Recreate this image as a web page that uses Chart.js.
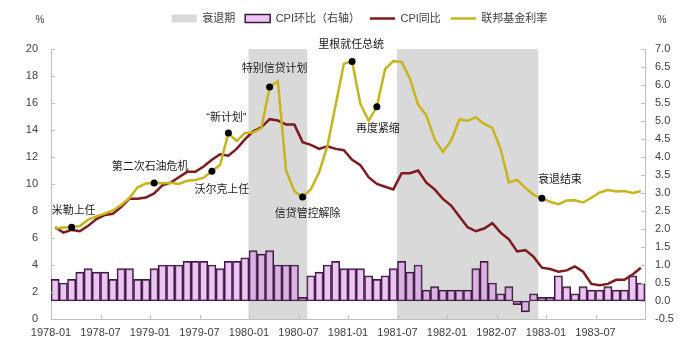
<!DOCTYPE html>
<html>
<head>
<meta charset="utf-8">
<script src="https://cdn.jsdelivr.net/npm/chart.js@4.4.1/dist/chart.umd.min.js"></script>
<style>
  html, body { margin: 0; padding: 0; background: #fff; }
</style>
</head>
<body>
<canvas id="fedChart" width="693" height="348"></canvas>
<script>
// monthly series, 1978-01 .. 1983-12
var months = [];
for (var yr = 1978; yr <= 1983; yr++) {
  for (var mo = 1; mo <= 12; mo++) {
    months.push(yr + '-' + (mo < 10 ? '0' + mo : mo));
  }
}

var tickLabels = ['1978-01', '1978-07', '1979-01', '1979-07', '1980-01', '1980-07',
                  '1981-01', '1981-07', '1982-01', '1982-07', '1983-01', '1983-07'];

// CPI month on month, % (right axis)
var cpiMom = [
  0.6, 0.5, 0.6, 0.8, 0.9, 0.8, 0.8, 0.6, 0.9, 0.9, 0.6, 0.6,
  0.9, 1.0, 1.0, 1.0, 1.1, 1.1, 1.1, 1.0, 0.9, 1.1, 1.1, 1.2,
  1.4, 1.3, 1.4, 1.0, 1.0, 1.0, 0.1, 0.7, 0.8, 1.0, 1.1, 0.9,
  0.9, 0.9, 0.7, 0.6, 0.7, 0.9, 1.1, 0.8, 1.0, 0.3, 0.4, 0.3,
  0.3, 0.3, 0.3, 0.9, 1.1, 0.5, 0.2, 0.4, -0.1, -0.3, 0.2, 0.1,
  0.1, 0.7, 0.4, 0.2, 0.4, 0.3, 0.3, 0.4, 0.3, 0.3, 0.7, 0.5
];

// CPI year on year, %
var cpiYoy = [
  6.8, 6.4, 6.6, 6.5, 6.9, 7.4, 7.7, 7.8, 8.3, 8.9, 8.9, 9.0,
  9.3, 9.9, 10.1, 10.5, 10.9, 10.9, 11.3, 11.8, 12.2, 12.1, 12.6, 13.3,
  13.9, 14.2, 14.8, 14.7, 14.4, 14.4, 13.1, 12.9, 12.6, 12.8, 12.6, 12.5,
  11.8, 11.4, 10.5, 10.0, 9.8, 9.6, 10.8, 10.8, 11.0, 10.1, 9.6, 8.9,
  8.4, 7.6, 6.8, 6.5, 6.7, 7.1, 6.4, 5.9, 5.0, 5.1, 4.6, 3.8,
  3.7, 3.5, 3.6, 3.9, 3.5, 2.6, 2.5, 2.6, 2.9, 2.9, 3.3, 3.8
];

// effective federal funds rate, %
var fedFunds = [
  6.70, 6.78, 6.79, 6.89, 7.36, 7.60, 7.81, 8.04, 8.45, 8.96, 9.76, 10.03,
  10.07, 10.06, 10.09, 10.01, 10.24, 10.29, 10.47, 10.94, 11.43, 13.77, 13.18, 13.78,
  13.82, 14.13, 17.19, 17.61, 10.98, 9.47, 9.03, 9.61, 10.87, 12.81, 15.85, 18.90,
  19.08, 15.93, 14.70, 15.72, 18.52, 19.10, 19.04, 17.82, 15.87, 15.08, 13.31, 12.37,
  13.22, 14.78, 14.68, 14.94, 14.45, 14.15, 12.59, 10.12, 10.31, 9.71, 9.20, 8.95,
  8.68, 8.51, 8.77, 8.80, 8.63, 8.98, 9.37, 9.56, 9.45, 9.48, 9.34, 9.47
];

// recessions, first and last month
var recessions = [['1980-01', '1980-07'], ['1981-07', '1982-11']];

// events marked on the fed funds line
var events = ['1978-03', '1979-01', '1979-08', '1979-10', '1980-03',
              '1980-07', '1981-01', '1981-04', '1982-12'];
var eventLabels = ['米勒上任', '第二次石油危机', '沃尔克上任', '“新计划”', '特别信贷计划',
                   '信贷管控解除', '里根就任总统', '再度紧缩', '衰退结束'];

var FONT = '"Liberation Sans", "Noto Sans CJK SC", sans-serif';
var AXIS = '#bfbfbf';
var TEXT = '#404040';

// put each month at the middle of its slot on the x axis
function atMonths(values) {
  return values.map(function (v, i) { return { x: i + 0.5, y: v }; });
}

var recessionData = months.map(function (m) {
  var inside = recessions.some(function (r) { return m >= r[0] && m <= r[1]; });
  return inside ? 20 : null;
});

var dotRadius = months.map(function (m) { return events.indexOf(m) >= 0 ? 3.5 : 0; });

// label offsets from each event dot, px
var noteOffsets = [[2, -16], [-4, -16], [10, 19], [-2, -15], [5, -18],
                   [5, 17], [-1, -16], [1, 22], [18, -18]];

var eventNotes = {
  id: 'eventNotes',
  afterDatasetsDraw: function (chart) {
    var c = chart.ctx, xs = chart.scales.x, ys = chart.scales.y;
    c.save();
    c.font = '11px ' + FONT;
    c.fillStyle = '#1a1a1a';
    c.textAlign = 'center';
    c.textBaseline = 'middle';
    events.forEach(function (m, k) {
      var i = months.indexOf(m);
      var px = xs.getPixelForValue(i + 0.5);
      var py = ys.getPixelForValue(fedFunds[i]);
      c.fillText(eventLabels[k], px + noteOffsets[k][0], py + noteOffsets[k][1]);
    });
    // unit labels above both axes
    c.font = '10px ' + FONT;
    c.fillStyle = TEXT;
    c.fillText('%', chart.chartArea.left - 11, 20);
    c.fillText('%', chart.chartArea.right + 17, 20);
    c.restore();
  }
};

// short tick marks pointing into the plot
var innerTicks = {
  id: 'innerTicks',
  afterDraw: function (chart) {
    var c = chart.ctx, a = chart.chartArea, s = chart.scales;
    c.save();
    c.strokeStyle = AXIS;
    c.lineWidth = 1;
    c.beginPath();
    s.x.ticks.forEach(function (t) {
      if (t.value <= 0 || t.value >= 72) return;
      var px = Math.round(s.x.getPixelForValue(t.value)) + 0.5;
      c.moveTo(px, a.bottom);
      c.lineTo(px, a.bottom - 4);
    });
    s.y.ticks.forEach(function (t) {
      var py = Math.round(s.y.getPixelForValue(t.value)) + 0.5;
      c.moveTo(a.left, py);
      c.lineTo(a.left + 4, py);
    });
    s.y1.ticks.forEach(function (t) {
      var py = Math.round(s.y1.getPixelForValue(t.value)) + 0.5;
      c.moveTo(a.right, py);
      c.lineTo(a.right - 4, py);
    });
    c.stroke();
    c.restore();
  }
};

// fixed legend band height, legend centred a little right of the canvas middle
var legendBox = {
  id: 'legendBox',
  beforeInit: function (chart) {
    var fit = chart.legend.fit;
    chart.legend.fit = function () {
      fit.call(this);
      this.height = 46;
    };
  },
  afterLayout: function (chart) {
    chart.legend.left += 26;
  }
};

var legendStyles = [
  { pointStyle: 'rect', fillStyle: '#d9d9d9', strokeStyle: '#d9d9d9', lineWidth: 0 },
  { pointStyle: 'rect', fillStyle: 'rgb(235,198,243)', strokeStyle: '#3a1c3a', lineWidth: 1.5 },
  { pointStyle: 'line', fillStyle: '#7f1a1f', strokeStyle: '#7f1a1f', lineWidth: 2.5 },
  { pointStyle: 'line', fillStyle: '#c8b41c', strokeStyle: '#c8b41c', lineWidth: 2.5 }
];

var ctx = document.getElementById('fedChart').getContext('2d');

new Chart(ctx, {
  type: 'bar',
  data: {
    datasets: [{
      type: 'bar',
      label: '衰退期',
      data: atMonths(recessionData),
      yAxisID: 'y',
      backgroundColor: '#d9d9d9',
      borderWidth: 0,
      inflateAmount: 0.5,
      grouped: false,
      barPercentage: 1,
      categoryPercentage: 1,
      order: 4
    }, {
      type: 'bar',
      label: 'CPI环比（右轴）',
      data: atMonths(cpiMom),
      yAxisID: 'y1',
      backgroundColor: 'rgba(215,140,232,0.5)',
      borderColor: '#3a1c3a',
      borderWidth: 1.2,
      borderSkipped: false,
      grouped: false,
      barPercentage: 1,
      categoryPercentage: 1,
      order: 3
    }, {
      type: 'line',
      label: 'CPI同比',
      data: atMonths(cpiYoy),
      yAxisID: 'y',
      borderColor: '#7f1a1f',
      borderWidth: 2.5,
      pointRadius: 0,
      tension: 0,
      order: 2
    }, {
      type: 'line',
      label: '联邦基金利率',
      data: atMonths(fedFunds),
      yAxisID: 'y',
      borderColor: '#c8b41c',
      borderWidth: 2.5,
      pointRadius: dotRadius,
      pointBackgroundColor: '#000',
      pointBorderColor: '#000',
      pointBorderWidth: 0,
      tension: 0,
      order: 1
    }]
  },
  options: {
    responsive: false,
    animation: false,
    layout: { padding: { top: 3, left: 0, right: 0, bottom: 0 } },
    plugins: {
      tooltip: { enabled: false },
      legend: {
        position: 'top',
        labels: {
          usePointStyle: true,
          pointStyleWidth: 25,
          boxHeight: 8,
          padding: 10,
          color: TEXT,
          font: { family: FONT, size: 11 },
          generateLabels: function (chart) {
            return chart.data.datasets.map(function (ds, i) {
              var st = legendStyles[i];
              return {
                text: ds.label,
                datasetIndex: i,
                pointStyle: st.pointStyle,
                fillStyle: st.fillStyle,
                strokeStyle: st.strokeStyle,
                lineWidth: st.lineWidth,
                fontColor: TEXT,
                hidden: false
              };
            });
          }
        }
      }
    },
    scales: {
      x: {
        type: 'linear',
        min: 0,
        max: 72,
        offset: false,
        grid: { display: false, drawTicks: false },
        border: { color: AXIS },
        ticks: {
          stepSize: 6,
          autoSkip: false,
          maxRotation: 0,
          padding: 7,
          color: TEXT,
          font: { family: FONT, size: 11 },
          callback: function (v) { return tickLabels[Math.round(v / 6)]; }
        },
        afterFit: function (s) { s.height = 29; }
      },
      y: {
        position: 'left',
        min: 0,
        max: 20,
        grid: { display: false, drawTicks: false },
        border: { color: AXIS },
        ticks: { stepSize: 2, padding: 13, color: TEXT, font: { family: FONT, size: 11 } },
        afterFit: function (s) { s.width = 51; }
      },
      y1: {
        position: 'right',
        min: -0.5,
        max: 7,
        grid: { display: false, drawTicks: false },
        border: { color: AXIS },
        ticks: {
          stepSize: 0.5,
          padding: 10,
          color: TEXT,
          font: { family: FONT, size: 11 },
          callback: function (v) { return v.toFixed(1); }
        },
        afterFit: function (s) { s.width = 48; }
      }
    }
  },
  plugins: [legendBox, innerTicks, eventNotes]
});
</script>
</body>
</html>
